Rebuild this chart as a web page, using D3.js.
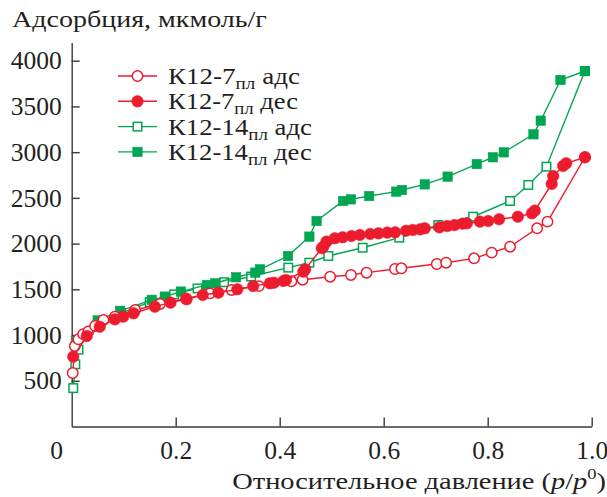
<!DOCTYPE html>
<html>
<head>
<meta charset="utf-8">
<script src="https://cdn.jsdelivr.net/npm/d3@7"></script>
<style>
  body { margin: 0; background: #fff; }
</style>
</head>
<body>
<svg id="chart" width="607" height="497"></svg>
<script>
// relative pressure p/p0 and adsorption, mkmol/g
const k7Ads = [
  [0.002, 585], [0.006, 880], [0.013, 954], [0.022, 1010], [0.032, 1040],
  [0.045, 1099], [0.061, 1165], [0.083, 1201], [0.122, 1274], [0.17, 1340],
  [0.22, 1400], [0.266, 1456], [0.3075, 1493], [0.36, 1535], [0.4225, 1588],
  [0.444, 1605], [0.497, 1638], [0.537, 1657], [0.567, 1682], [0.6217, 1722],
  [0.634, 1730], [0.702, 1777], [0.72, 1791], [0.7737, 1839], [0.8077, 1901],
  [0.843, 1966], [0.895, 2167], [0.915, 2240], [0.987, 2944]
];
const k7Des = [
  [0.003, 763], [0.029, 990], [0.054, 1091], [0.083, 1172], [0.099, 1201],
  [0.119, 1238], [0.16, 1310], [0.19, 1354], [0.221, 1391], [0.252, 1438],
  [0.282, 1463], [0.3185, 1500], [0.349, 1536], [0.381, 1566], [0.389, 1572],
  [0.407, 1591], [0.412, 1602], [0.4455, 1693], [0.449, 1719], [0.481, 1949],
  [0.484, 1966], [0.49, 2021], [0.506, 2058], [0.521, 2069], [0.538, 2083],
  [0.554, 2094], [0.574, 2105], [0.59, 2112], [0.607, 2120], [0.622, 2123],
  [0.643, 2141], [0.656, 2149], [0.67, 2156], [0.679, 2167], [0.707, 2178],
  [0.722, 2192], [0.736, 2203], [0.752, 2218], [0.76, 2222], [0.785, 2240],
  [0.801, 2247], [0.822, 2266], [0.858, 2294], [0.885, 2331], [0.8906, 2360],
  [0.923, 2652], [0.926, 2739], [0.945, 2849], [0.951, 2878], [0.987, 2944]
];
const k14Ads = [
  [0.003, 420], [0.007, 680], [0.013, 840], [0.025, 985], [0.05, 1110],
  [0.095, 1240], [0.15, 1360], [0.197, 1445], [0.242, 1510], [0.293, 1578],
  [0.345, 1640], [0.4165, 1737], [0.457, 1791], [0.4935, 1864], [0.5596, 1955],
  [0.63, 2065], [0.705, 2203], [0.772, 2294], [0.843, 2466], [0.878, 2641],
  [0.913, 2841], [0.987, 3887]
];
const k14Des = [
  [0.008, 930], [0.05, 1160], [0.093, 1265], [0.154, 1385], [0.179, 1420],
  [0.21, 1475], [0.26, 1548], [0.276, 1566], [0.316, 1632], [0.353, 1682],
  [0.362, 1719], [0.416, 1864], [0.457, 2076], [0.471, 2247], [0.522, 2466],
  [0.537, 2484], [0.572, 2520], [0.624, 2568], [0.635, 2586], [0.679, 2648],
  [0.723, 2732], [0.779, 2870], [0.81, 2944], [0.831, 2998], [0.888, 3195],
  [0.902, 3344], [0.94, 3789], [0.987, 3887]
];
const xTicks = [0, 0.2, 0.4, 0.6, 0.8, 1.0];
const yTicks = [500, 1000, 1500, 2000, 2500, 3000, 3500, 4000];

const FONT = "Liberation Serif";
const INK = "#231f20";
const red = "#ec1c2e", green = "#00a651";
const series = [
  { name: "К12-14", kind: "адс", data: k14Ads, color: green, shape: "square", filled: false },
  { name: "К12-14", kind: "дес", data: k14Des, color: green, shape: "square", filled: true },
  { name: "К12-7", kind: "адс", data: k7Ads, color: red, shape: "circle", filled: false },
  { name: "К12-7", kind: "дес", data: k7Des, color: red, shape: "circle", filled: true }
];
const legendOrder = [2, 3, 0, 1];
const legendWidths = [132, 130, 144, 144];

const svg = d3.select("#chart");
const x = d3.scaleLinear().domain([0, 1]).range([71.7, 591.7]);
const y = d3.scaleLinear().domain([0, 4200]).range([426.5, 42.4]);

// stretch a text horizontally to the width it has in the scanned figure
function fit(t, ax, ay, w) {
  t.attr("x", 0).attr("y", 0);
  const bw = t.node().getBBox().width;
  t.attr("transform", `translate(${ax},${ay}) scale(${w / bw},1)`);
}

// axes
const xAxis = svg.append("g").attr("transform", `translate(0,${y(0)})`)
  .call(d3.axisBottom(x).tickValues(xTicks).tickSizeInner(-9).tickSizeOuter(0)
    .tickFormat(d => d === 0 ? "0" : d3.format(".1f")(d)));
xAxis.selectAll("text").attr("y", 24).attr("dy", "0.32em")
  .attr("dx", d => d === 0 ? -15.5 : 0);

const yAxis = svg.append("g").attr("transform", `translate(${x(0)},0)`)
  .call(d3.axisLeft(y).tickValues(yTicks).tickSizeInner(-8).tickSizeOuter(0)
    .tickFormat(d3.format("d")));
yAxis.selectAll("text").attr("x", -10);

svg.selectAll(".tick text").style("font-family", FONT).style("font-size", "25.5px")
  .attr("fill", INK);
svg.selectAll(".domain, .tick line").attr("stroke", "#3a3a3a").attr("stroke-width", 1.4);
xAxis.selectAll(".tick").filter(d => d === 0).select("line").remove();

function drawMarker(g, s, cx, cy) {
  if (s.shape === "circle") {
    g.append("circle").attr("cx", cx).attr("cy", cy)
      .attr("r", s.filled ? 5.8 : 5.2)
      .attr("fill", s.filled ? s.color : "#fff")
      .attr("stroke", s.color).attr("stroke-width", s.filled ? 0.5 : 1.5);
  } else {
    const a = s.filled ? 9.5 : 8.5;
    g.append("rect").attr("x", cx - a / 2).attr("y", cy - a / 2)
      .attr("width", a).attr("height", a)
      .attr("fill", s.filled ? s.color : "#fff")
      .attr("stroke", s.color).attr("stroke-width", s.filled ? 0.5 : 1.5);
  }
}

const line = d3.line().x(d => x(d[0])).y(d => y(d[1]));

series.forEach(s => {
  const g = svg.append("g");
  g.append("path").datum(s.data).attr("d", line)
    .attr("fill", "none").attr("stroke", s.color).attr("stroke-width", 1.4);
  s.data.forEach(d => drawMarker(g, s, x(d[0]), y(d[1])));
});

// legend
const legend = svg.append("g");
legendOrder.forEach((idx, i) => {
  const s = series[idx];
  const ly = 76 + i * 25.3;
  legend.append("line").attr("x1", 118).attr("x2", 157).attr("y1", ly).attr("y2", ly)
    .attr("stroke", s.color).attr("stroke-width", 1.4);
  drawMarker(legend, s, 137.5, ly);
  const t = legend.append("text").style("font-family", FONT).style("font-size", "24px")
    .attr("fill", INK);
  t.append("tspan").text(s.name);
  t.append("tspan").attr("dy", 5).style("font-size", "17px").text("пл");
  t.append("tspan").attr("dy", -5).text(" " + s.kind);
  fit(t, 168, ly + 8, legendWidths[i]);
});

// titles
const yl = svg.append("text").style("font-family", FONT).style("font-size", "23px")
  .attr("fill", INK).text("Адсорбция, мкмоль/г");
fit(yl, 12, 27, 255);

const xl = svg.append("text").attr("text-anchor", "end")
  .style("font-family", FONT).style("font-size", "23px").attr("fill", INK);
xl.append("tspan").text("Относительное давление (");
xl.append("tspan").style("font-style", "italic").text("p");
xl.append("tspan").text("/");
xl.append("tspan").style("font-style", "italic").text("p");
xl.append("tspan").attr("dy", -10).style("font-size", "15px").text("0");
xl.append("tspan").attr("dy", 10).text(")");
fit(xl, 606, 489, 374);
</script>
</body>
</html>
